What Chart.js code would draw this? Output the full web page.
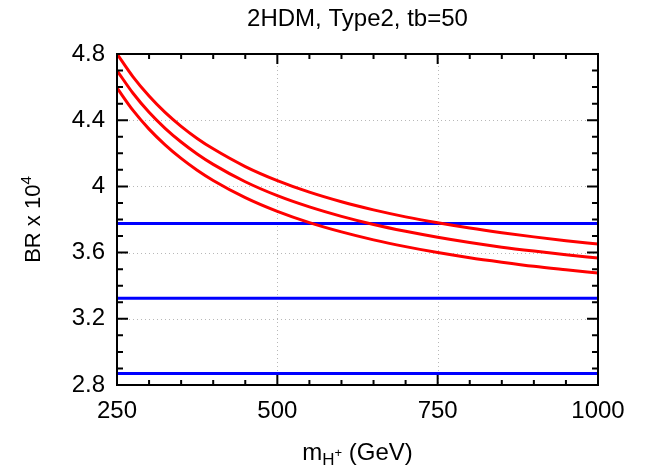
<!DOCTYPE html>
<html>
<head>
<meta charset="utf-8">
<script src="https://cdn.jsdelivr.net/npm/chart.js@4.4.1/dist/chart.umd.min.js"></script>
<style>
  html, body { margin: 0; padding: 0; background: #fff; }
  #wrap { width: 656px; height: 471px; }
</style>
</head>
<body>
<div id="wrap"><canvas id="chart"></canvas></div>
<script>
// charged Higgs mass (GeV) and BR x 10^4
const MASS = [250, 275, 300, 325, 350, 375, 400, 450, 500, 550, 600, 650, 700, 750, 800, 850, 900, 950, 1000];
const BR_UPPER  = [4.801, 4.662, 4.546, 4.447, 4.363, 4.290, 4.227, 4.120, 4.035, 3.965, 3.907, 3.858, 3.816, 3.780, 3.748, 3.720, 3.695, 3.672, 3.652];
const BR_MIDDLE = [4.700, 4.563, 4.448, 4.351, 4.268, 4.196, 4.133, 4.028, 3.944, 3.876, 3.819, 3.770, 3.729, 3.693, 3.661, 3.633, 3.609, 3.587, 3.567];
const BR_LOWER  = [4.595, 4.459, 4.346, 4.251, 4.169, 4.098, 4.036, 3.932, 3.849, 3.781, 3.725, 3.677, 3.636, 3.600, 3.569, 3.542, 3.517, 3.496, 3.476];
// horizontal reference levels
const LIMITS = [3.776, 3.324, 2.870];

const X_TICKS = [250, 500, 750, 1000];
const Y_TICKS = [2.8, 3.2, 3.6, 4.0, 4.4, 4.8];
const X_MINOR_STEP = 50;
const Y_MINOR_STEP = 0.1;

const FONT = "'Liberation Sans', Arial, sans-serif";
const RED = "#ff0000";
const BLUE = "#0000ff";

function curve(values) {
  return {
    data: MASS.map((m, i) => ({ x: m, y: values[i] })),
    borderColor: RED,
    borderWidth: 3,
    pointRadius: 0,
    cubicInterpolationMode: "monotone",
    fill: false,
  };
}

function level(v) {
  return {
    data: [{ x: MASS[0], y: v }, { x: MASS[MASS.length - 1], y: v }],
    borderColor: BLUE,
    borderWidth: 3,
    pointRadius: 0,
    fill: false,
  };
}

// gnuplot style frame: dotted grid, inward ticks on all four sides, titles
const gnuFrame = {
  id: "gnuFrame",
  beforeDatasetsDraw(chart) {
    const { ctx, chartArea: a, scales: { x, y } } = chart;
    ctx.save();
    ctx.strokeStyle = "#b8b8b8";
    ctx.lineWidth = 1;
    ctx.setLineDash([1, 3]);
    ctx.beginPath();
    X_TICKS.slice(1, -1).forEach(v => {
      const px = Math.round(x.getPixelForValue(v)) + 0.5;
      ctx.moveTo(px, a.top); ctx.lineTo(px, a.bottom);
    });
    Y_TICKS.slice(1, -1).forEach(v => {
      const py = Math.round(y.getPixelForValue(v)) + 0.5;
      ctx.moveTo(a.left, py); ctx.lineTo(a.right, py);
    });
    ctx.stroke();
    ctx.restore();
  },
  afterDatasetsDraw(chart) {
    const { ctx, chartArea: a, scales: { x, y } } = chart;
    ctx.save();
    ctx.strokeStyle = "#000";
    ctx.lineWidth = 2;
    ctx.beginPath();
    for (let v = X_TICKS[0]; v <= X_TICKS[X_TICKS.length - 1]; v += X_MINOR_STEP) {
      const len = X_TICKS.includes(v) ? 10 : 5;
      const px = x.getPixelForValue(v);
      ctx.moveTo(px, a.bottom); ctx.lineTo(px, a.bottom - len);
      ctx.moveTo(px, a.top); ctx.lineTo(px, a.top + len);
    }
    for (let i = 0; i <= 20; i++) {
      const v = Y_TICKS[0] + i * Y_MINOR_STEP;
      const len = i % 4 === 0 ? 11 : 6;
      const py = y.getPixelForValue(v);
      ctx.moveTo(a.left, py); ctx.lineTo(a.left + len, py);
      ctx.moveTo(a.right, py); ctx.lineTo(a.right - len, py);
    }
    ctx.stroke();
    ctx.strokeRect(a.left, a.top, a.right - a.left, a.bottom - a.top);
    ctx.restore();
  },
  afterDraw(chart) {
    const { ctx, chartArea: a } = chart;
    const cx = (a.left + a.right) / 2;
    const cy = (a.top + a.bottom) / 2;
    ctx.save();
    ctx.fillStyle = "#000";
    ctx.textBaseline = "alphabetic";

    // title
    ctx.font = `24px ${FONT}`;
    ctx.textAlign = "center";
    ctx.fillText("2HDM, Type2, tb=50", cx, 26);

    // x title: m_{H+} (GeV)
    const big = `24px ${FONT}`, small = `17px ${FONT}`, tiny = `13px ${FONT}`;
    const parts = [
      { t: "m", f: big, dy: 0 },
      { t: "H", f: small, dy: 5 },
      { t: "+", f: tiny, dy: -3 },
      { t: " (GeV)", f: big, dy: 0 },
    ];
    let total = 0;
    parts.forEach(p => { ctx.font = p.f; p.w = ctx.measureText(p.t).width; total += p.w; });
    let xx = cx - total / 2;
    ctx.textAlign = "left";
    parts.forEach(p => { ctx.font = p.f; ctx.fillText(p.t, xx, 460 + p.dy); xx += p.w; });

    // y title: BR x 10^4, rotated
    const yt = `22px ${FONT}`;
    ctx.translate(40, cy);
    ctx.rotate(-Math.PI / 2);
    ctx.font = yt;
    const w1 = ctx.measureText("BR x 10").width;
    ctx.font = `15px ${FONT}`;
    const w2 = ctx.measureText("4").width;
    let sx = -(w1 + w2) / 2;
    ctx.font = yt;
    ctx.fillText("BR x 10", sx, 0);
    ctx.font = `15px ${FONT}`;
    ctx.fillText("4", sx + w1, -9);
    ctx.restore();
  },
};

new Chart(document.getElementById("chart"), {
  type: "line",
  data: {
    datasets: [
      curve(BR_UPPER),
      curve(BR_MIDDLE),
      curve(BR_LOWER),
      ...LIMITS.map(level),
    ],
  },
  options: {
    responsive: true,
    maintainAspectRatio: false,
    animation: false,
    layout: { padding: { top: 54, right: 58, bottom: 0, left: 0 } },
    plugins: {
      legend: { display: false },
      tooltip: { enabled: false },
    },
    scales: {
      x: {
        type: "linear",
        min: 250,
        max: 1000,
        afterBuildTicks: s => { s.ticks = X_TICKS.map(v => ({ value: v })); },
        afterFit: s => { s.height = 86; },
        grid: { display: false, drawTicks: false },
        border: { display: false },
        ticks: {
          color: "#000",
          padding: 12,
          maxRotation: 0,
          font: { family: FONT, size: 24 },
          callback: v => String(v),
        },
      },
      y: {
        type: "linear",
        min: 2.8,
        max: 4.8,
        afterBuildTicks: s => { s.ticks = Y_TICKS.map(v => ({ value: v })); },
        afterFit: s => { s.width = 117; },
        grid: { display: false, drawTicks: false },
        border: { display: false },
        ticks: {
          color: "#000",
          padding: 12,
          font: { family: FONT, size: 24 },
          callback: v => String(Number(v.toFixed(1))),
        },
      },
    },
  },
  plugins: [gnuFrame],
});
</script>
</body>
</html>
